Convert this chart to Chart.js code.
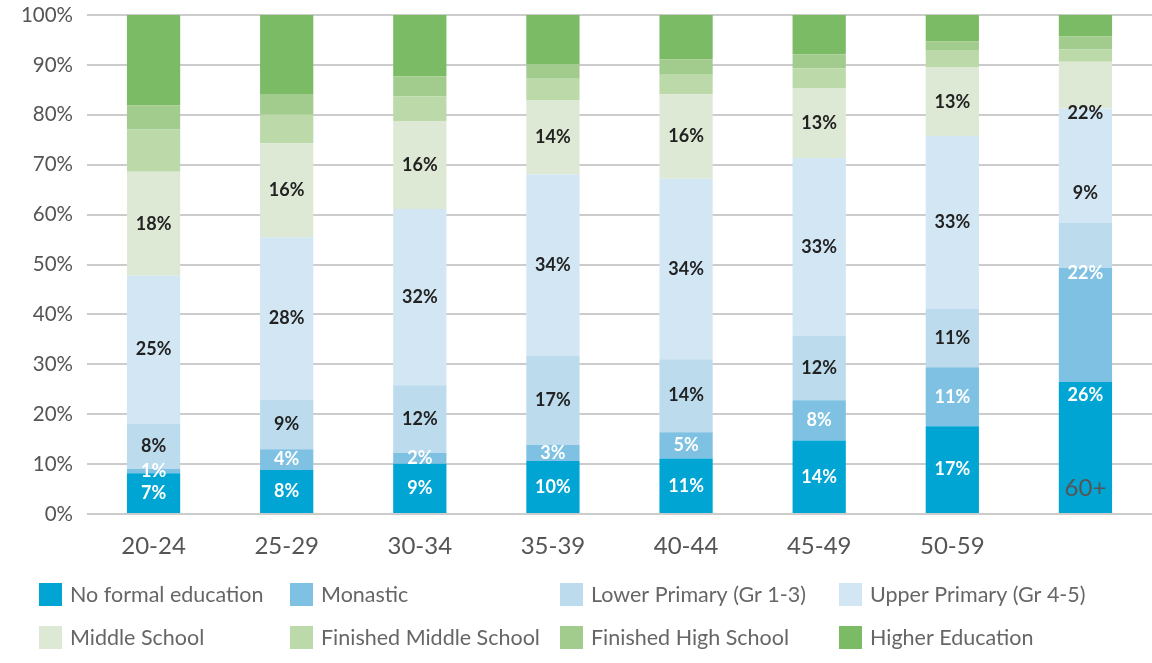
<!DOCTYPE html>
<html>
<head>
<meta charset="utf-8">
<script src="https://cdn.jsdelivr.net/npm/chart.js@4.4.1/dist/chart.umd.min.js"></script>
<style>
  body { margin: 0; background: #fff; }
  #wrap { width: 1152px; height: 663px; position: relative; }
</style>
</head>
<body>
<div id="wrap"><canvas id="chart"></canvas></div>
<script>
// Age groups
const ageGroups = ['20-24', '25-29', '30-34', '35-39', '40-44', '45-49', '50-59', '60+'];

// Education level per age group (%).
// The columns don't add up to 100, the chart stretches each one to 100%.
const noFormal       = [7.0, 7.7, 9.1, 10.0, 10.6, 13.8, 16.7, 25.7];
const monastic       = [0.8, 3.6, 2.0, 3.0, 5.0, 7.6, 11.2, 22.2];
const lowerPrimary   = [7.8, 8.6, 12.2, 16.9, 13.9, 12.1, 11.2, 8.8];
const upperPrimary   = [25.4, 28.4, 31.9, 34.1, 34.4, 33.4, 32.8, 22.2];
const middleSchool   = [17.9, 16.4, 15.9, 14.0, 16.1, 13.2, 13.0, 9.1];
const finishedMiddle = [7.3, 5.0, 4.5, 4.1, 3.7, 3.7, 3.2, 2.4];
const finishedHigh   = [4.1, 3.5, 3.6, 2.7, 2.9, 2.6, 1.8, 2.5];
const higherEd       = [15.6, 13.9, 11.1, 9.3, 8.5, 7.4, 5.0, 4.2];

// y axis ticks (%)
const yMin = 0, yMax = 100, yStep = 10;

const FONT = 'Lato, "Open Sans", sans-serif';

// column totals, used to scale every column to 100%
const series = [noFormal, monastic, lowerPrimary, upperPrimary, middleSchool, finishedMiddle, finishedHigh, higherEd];
const totals = ageGroups.map((g, j) => series.reduce((s, arr) => s + arr[j], 0));
const toShare = arr => arr.map((v, j) => v / totals[j] * 100);

function makeSet(label, raw, color, labelColor) {
    return {
        label: label,
        data: toShare(raw),
        rawValues: raw,
        backgroundColor: color,
        labelColor: labelColor, // null = no value printed
        borderWidth: 0,
        barPercentage: 0.4,
        categoryPercentage: 1.0
    };
}

const datasets = [
    makeSet('No formal education', noFormal, '#00a5d4', '#ffffff'),
    makeSet('Monastic', monastic, '#7fc1e2', '#ffffff'),
    makeSet('Lower Primary (Gr 1-3)', lowerPrimary, '#bcdcee', '#222222'),
    makeSet('Upper Primary (Gr 4-5)', upperPrimary, '#d3e6f4', '#222222'),
    makeSet('Middle School', middleSchool, '#dde9d4', '#222222'),
    makeSet('Finished Middle School', finishedMiddle, '#bcdaa9', null),
    makeSet('Finished High School', finishedHigh, '#a2cc8e', null),
    makeSet('Higher Education', higherEd, '#7cbb65', null)
];

// the last column's text sits higher up in the original
const liftedGroup = '60+';
const liftLabels = 52;
const liftTick = 57;
const hiddenInLifted = [4]; // middle school value is covered there

// values printed in the bars
const barLabels = {
    id: 'barLabels',
    afterDatasetsDraw(chart) {
        const ctx = chart.ctx;
        ctx.save();
        ctx.font = '700 18px ' + FONT;
        ctx.textAlign = 'center';
        ctx.textBaseline = 'middle';
        chart.data.datasets.forEach((ds, i) => {
            if (!ds.labelColor) return;
            chart.getDatasetMeta(i).data.forEach((bar, j) => {
                const lifted = ageGroups[j] === liftedGroup;
                if (lifted && hiddenInLifted.includes(i)) return;
                const p = bar.getProps(['x', 'y', 'base'], true);
                let y = (p.y + p.base) / 2;
                if (lifted) y -= liftLabels;
                ctx.fillStyle = ds.labelColor;
                ctx.fillText(Math.round(ds.rawValues[j]) + '%', p.x, y);
            });
        });
        // the lifted category name
        const x = chart.scales.x;
        const j = ageGroups.indexOf(liftedGroup);
        ctx.font = '24px ' + FONT;
        ctx.fillStyle = '#555555';
        ctx.fillText(liftedGroup, x.getPixelForValue(j), chart.chartArea.bottom + 31 - liftTick);
        ctx.restore();
    }
};

// legend in fixed columns, two rows
const gridLegend = {
    id: 'gridLegend',
    afterDraw(chart) {
        const ctx = chart.ctx;
        const cols = [39, 290, 560, 839];
        const rows = [595, 638];
        ctx.save();
        ctx.font = '21.5px ' + FONT;
        ctx.textBaseline = 'middle';
        ctx.textAlign = 'left';
        chart.data.datasets.forEach((ds, i) => {
            const cx = cols[i % 4];
            const cy = rows[Math.floor(i / 4)];
            ctx.fillStyle = ds.backgroundColor;
            ctx.fillRect(cx, cy - 12, 23, 23);
            ctx.fillStyle = '#666666';
            ctx.fillText(ds.label, cx + 31, cy);
        });
        ctx.restore();
    }
};

new Chart(document.getElementById('chart'), {
    type: 'bar',
    data: {
        labels: ageGroups,
        datasets: datasets
    },
    options: {
        responsive: true,
        maintainAspectRatio: false,
        animation: false,
        layout: { padding: { top: 15, right: 0, left: 0, bottom: 0 } },
        plugins: {
            legend: { display: false },
            tooltip: { enabled: false }
        },
        scales: {
            x: {
                stacked: true,
                grid: { display: false },
                border: { display: false },
                ticks: {
                    color: '#555555',
                    font: { family: FONT, size: 24 },
                    padding: 10,
                    callback: function (v) {
                        const name = this.getLabelForValue(v);
                        return name === liftedGroup ? '' : name;
                    }
                },
                afterFit: s => { s.height = 149; }
            },
            y: {
                stacked: true,
                min: yMin,
                max: yMax,
                grid: { color: '#cccccc', lineWidth: 2, drawTicks: false },
                border: { display: false },
                ticks: {
                    stepSize: yStep,
                    color: '#555555',
                    padding: 14,
                    font: { family: FONT, size: 20.5 },
                    callback: v => v + '%'
                },
                afterFit: s => {
                    s.width = 87;
                    s.paddingTop = 0;
                    s.paddingBottom = 0;
                }
            }
        }
    },
    plugins: [barLabels, gridLegend]
});
</script>
</body>
</html>
